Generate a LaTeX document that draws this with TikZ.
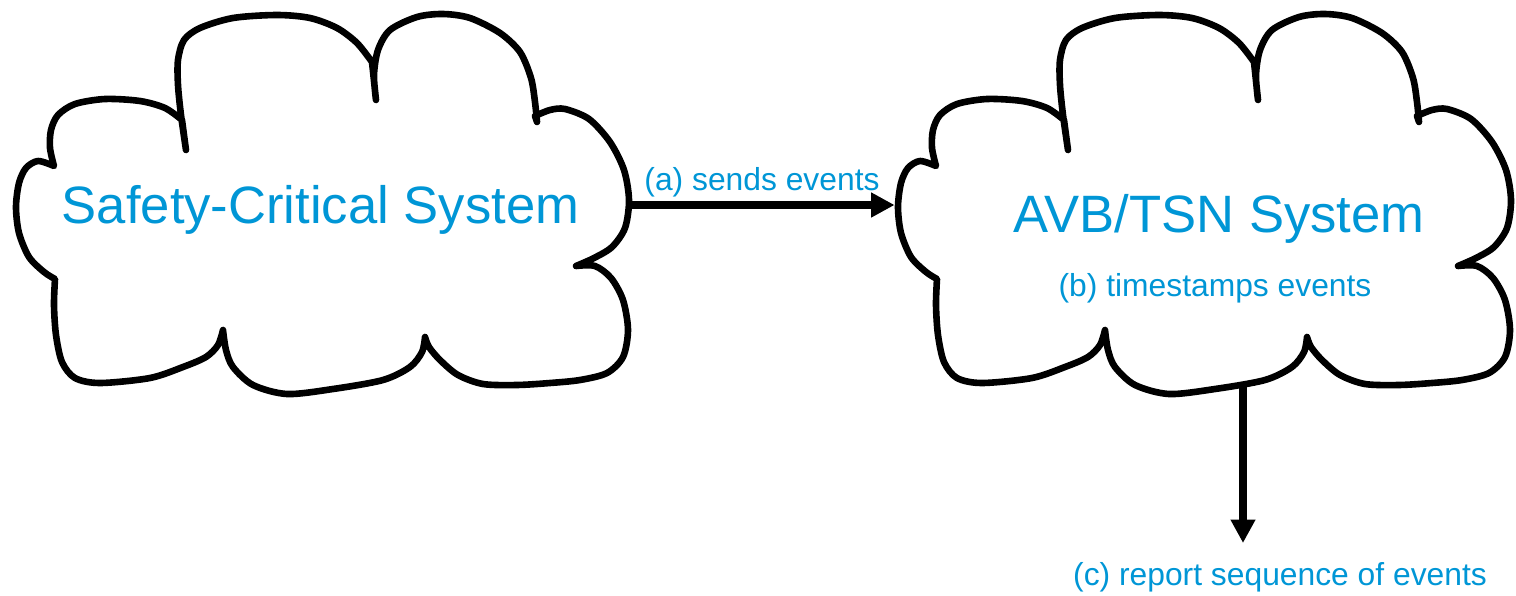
\documentclass[tikz,border=0pt]{standalone}
\usepackage{fontspec}
\setmainfont{Liberation Sans}
\usetikzlibrary{arrows.meta}
\definecolor{tblue}{RGB}{0,150,214}
\tikzset{
  cloudline/.style={draw=black, fill=white, line width=3.3pt, line join=round},
  cloudbox/.style={draw=none, inner sep=0pt, minimum width=306.5pt, minimum height=191pt},
  bigtext/.style={text=tblue, font=\fontsize{26.3pt}{30pt}\selectfont, inner sep=0pt, anchor=base},
  smalltext/.style={text=tblue, font=\fontsize{15.9pt}{18pt}\selectfont, inner sep=0pt, anchor=base},
  conn/.style={draw=black, line width=3.9pt, -{Triangle[length=11.7pt,width=11.7pt]}},
}
\newcommand\mycloud[1]{%
  \begin{scope}[shift={(#1,0)}]
    \path[cloudline]
      plot[smooth] coordinates {(54,166) (50,148) (51,130) (58,115) (75,104) (105,99) (140,101) (165,108) (182,120)}
      -- plot[smooth] coordinates {(186,150) (181,115) (178,85) (178,60) (184,40) (200,28) (233,18) (277,15) (310,18) (337,28) (357,43) (372,62)}
      -- plot[smooth] coordinates {(376,100) (374,75) (378,50) (390,30) (417,17) (443,14) (470,18) (500,33) (520,52) (531,78) (535,102) (537,122)}
      -- plot[smooth] coordinates {(535,116) (550,110) (565,109) (589,119) (610,142) (624,170) (629,200) (625,228) (612,247) (594,258) (576,266)}
      -- plot[smooth] coordinates {(576,266) (595,266) (611,278) (623,300) (628,330) (623,357) (607,373) (580,380) (550,383) (517,385) (483,384) (458,375) (440,360) (429,347) (425,337)}
      -- plot[smooth] coordinates {(425,337) (422,352) (410,367) (383,380) (333,389) (287,394) (253,385) (233,367) (226,350) (223,330)}
      -- plot[smooth] coordinates {(223,330) (218,345) (206,357) (183,367) (150,378) (100,383) (75,378) (62,362) (56,335) (54,305) (55,279)}
      -- plot[smooth] coordinates {(55,279) (44,272) (29,257) (19,233) (16,207) (19,183) (26,168) (38,161) (54,166)}
      -- cycle;
  \end{scope}}
\begin{document}
\begin{tikzpicture}[x=0.5pt,y=-0.5pt]
  \useasboundingbox (0,0) rectangle (1516,595);
  % clouds
  \mycloud{0}
  \mycloud{882}
  \node[cloudbox] (L) at (322.5,205) {};
  \node[cloudbox] (R) at (1204.5,205) {};
  % texts
  \node[bigtext] (tL) at (320.5,223) {Safety-Critical System};
  \node[bigtext] (tR) at (1219,232) {AVB/TSN System};
  \node[smalltext] (tb) at (1215,296) {(b) timestamps events};
  \node[smalltext] (ta) at (762,190.5) {(a) sends events};
  \node[smalltext] (tc) at (1280,585) {(c) report sequence of events};
  % connectors
  \draw[conn, shorten >=1.5pt] (L.east) -- (R.west);
  \coordinate (Rb) at (1243,383);
  \coordinate (cend) at (1243,543);
  \draw[conn] (Rb) -- (cend);
\end{tikzpicture}
\end{document}
